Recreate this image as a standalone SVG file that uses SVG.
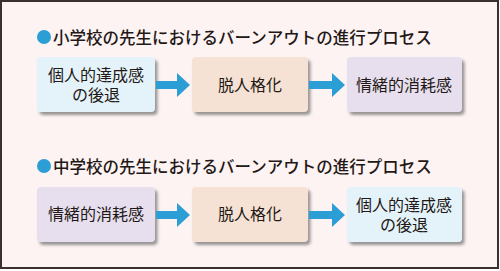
<svg xmlns="http://www.w3.org/2000/svg" width="500" height="271" viewBox="0 0 500 271">
<defs>
<style>
.title{font-family:"Noto Sans CJK JP","Noto Sans CJK SC",sans-serif;font-size:16.5px;font-weight:500;fill:#231815;}
.lbl{font-family:"Noto Sans CJK JP","Noto Sans CJK SC",sans-serif;font-size:16px;fill:#231815;text-anchor:middle;}
.arrow{fill:#2a9ed5;}
.blue{fill:#e4f3f9;}
.peach{fill:#f6e2d4;}
.lav{fill:#e7dfee;}
</style>
<filter id="sh" x="-10%" y="-10%" width="130%" height="140%">
<feDropShadow dx="2.5" dy="3" stdDeviation="1.5" flood-color="#6a6a6a" flood-opacity="0.7"/>
</filter>
</defs>
<rect x="1" y="1" width="497" height="267" fill="#fdf3f3" stroke="#3b2e2e" stroke-width="2"/>
<g id="title1">
<circle cx="44" cy="37" r="7" fill="#2a9ed5"/>
<text class="title" x="53" y="44">小学校の先生におけるバーンアウトの進行プロセス</text>
</g>
<g id="r1n1"><rect class="blue" x="37" y="57" width="118" height="55" rx="4" filter="url(#sh)"/>
<text class="lbl" x="96" y="81">個人的達成感</text><text class="lbl" x="96" y="101">の後退</text></g>
<g id="r1n2"><rect class="peach" x="192" y="57" width="116" height="55" rx="4" filter="url(#sh)"/>
<text class="lbl" x="250" y="91">脱人格化</text></g>
<g id="r1n3"><rect class="lav" x="347" y="57" width="115" height="55" rx="4" filter="url(#sh)"/>
<text class="lbl" x="404" y="91">情緒的消耗感</text></g>
<g id="title2">
<circle cx="44" cy="166" r="7" fill="#2a9ed5"/>
<text class="title" x="53" y="173">中学校の先生におけるバーンアウトの進行プロセス</text>
</g>
<g id="r2n1"><rect class="lav" x="37" y="187" width="118" height="55" rx="4" filter="url(#sh)"/>
<text class="lbl" x="96" y="220">情緒的消耗感</text></g>
<g id="r2n2"><rect class="peach" x="192" y="187" width="116" height="55" rx="4" filter="url(#sh)"/>
<text class="lbl" x="250" y="220">脱人格化</text></g>
<g id="r2n3"><rect class="blue" x="347" y="187" width="115" height="55" rx="4" filter="url(#sh)"/>
<text class="lbl" x="404" y="211">個人的達成感</text><text class="lbl" x="404" y="231">の後退</text></g>
<g id="connectors">
<polygon class="arrow" points="156,81 177,81 177,73 190,85 177,97 177,89 156,89"/>
<polygon class="arrow" points="309,81 332,81 332,73 345,85 332,97 332,89 309,89"/>
<polygon class="arrow" points="156,211 177,211 177,203 190,215 177,227 177,219 156,219"/>
<polygon class="arrow" points="309,211 332,211 332,203 345,215 332,227 332,219 309,219"/>
</g>
</svg>
